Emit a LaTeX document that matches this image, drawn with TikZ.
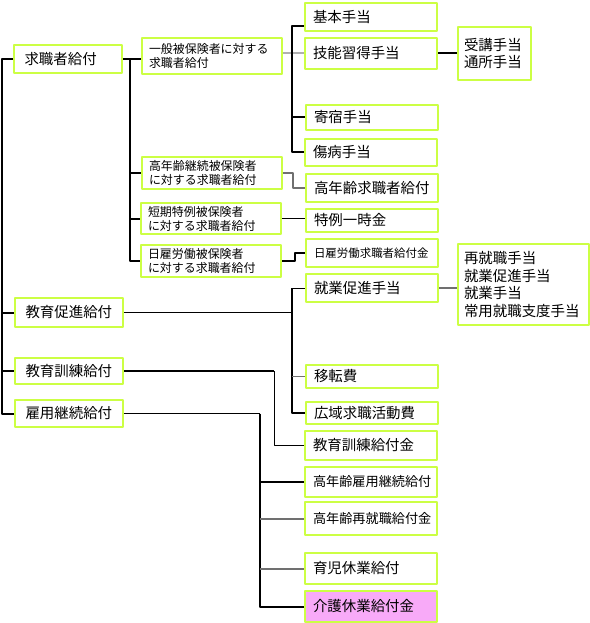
\documentclass[tikz,border=0pt]{standalone}
\usepackage{fontspec}
\setmainfont{Noto Sans CJK JP}
\usepackage{tikz}
\usetikzlibrary{calc}

\definecolor{boxcol}{RGB}{204,255,68}
\definecolor{pinkcol}{RGB}{248,170,248}
\definecolor{linegray}{RGB}{112,112,112}
\definecolor{palegray}{RGB}{176,176,176}

\tikzset{
  kbox/.style={draw=boxcol, line width=2bp, rectangle, anchor=north west,
    inner ysep=0bp, align=left, font=\fontsize{14.5}{17.5}\selectfont},
  colA/.style={kbox, inner xsep=10.5bp, text width=87bp},
  colB/.style={kbox, inner xsep=7bp, text width=126bp, font=\fontsize{12}{14}\selectfont},
  colC/.style={kbox, inner xsep=8bp, text width=116bp},
  thk/.style={line width=2bp, black},
  thn/.style={line width=1bp, black},
  gry/.style={line width=2bp, linegray},
  pale/.style={line width=2bp, palegray}
}

\begin{document}
\begin{tikzpicture}[line join=bevel, x=1bp, y=-1bp]
    \pgfsetlinewidth{1bp}
    \useasboundingbox (0,0) rectangle (590,623);
    %%
    % Node: column 1
    \node[colA, minimum height=28bp] (kyushoku) at (13,44) {求職者給付};
    \node[colA, minimum height=29bp] (sokushin) at (14,297) {教育促進給付};
    \node[colA, minimum height=26bp] (kunren) at (14,357) {教育訓練給付};
    \node[colA, minimum height=27bp] (keizoku) at (14,399) {雇用継続給付};
    % Node: column 2
    \node[colB, minimum height=36bp] (ippan) at (141,37) {一般被保険者に対する\\求職者給付};
    \node[colB, minimum height=32bp] (konenkei) at (141,156) {高年齢継続被保険者\\に対する求職者給付};
    \node[colB, minimum height=31bp] (tanki) at (140,202) {短期特例被保険者\\に対する求職者給付};
    \node[colB, minimum height=32bp] (hiyatoi) at (140,244) {日雇労働被保険者\\に対する求職者給付};
    % Node: column 3
    \node[colC, minimum height=28bp] (kihon) at (304,2) {基本手当};
    \node[colC, minimum height=31bp] (gino) at (304,37) {技能習得手当};
    \node[colC, minimum height=25bp] (kishuku) at (305,104) {寄宿手当};
    \node[colC, minimum height=27bp] (shobyo) at (304,138) {傷病手当};
    \node[colC, minimum height=28bp] (konenkyu) at (305,173) {高年齢求職者給付};
    \node[colC, minimum height=23bp] (tokurei) at (305,208) {特例一時金};
    \node[colC, minimum height=28bp, font=\fontsize{11.5}{14}\selectfont] (hiyakyu) at (305,238) {日雇労働求職者給付金};
    \node[colC, minimum height=28bp] (shugyo) at (305,273) {就業促進手当};
    \node[colC, minimum height=23bp] (iten) at (305,364) {移転費};
    \node[colC, minimum height=22bp] (koiki) at (305,401) {広域求職活動費};
    \node[colC, minimum height=29bp] (kunrenkin) at (304,430) {教育訓練給付金};
    \node[colC, minimum height=30bp, font=\fontsize{13.2}{16}\selectfont] (konenkoyo) at (304,466) {高年齢雇用継続給付};
    \node[colC, minimum height=33bp, font=\fontsize{13.2}{16}\selectfont] (konensai) at (304,501) {高年齢再就職給付金};
    \node[colC, minimum height=31bp] (ikuji) at (304,552) {育児休業給付};
    \node[colC, minimum height=31bp, fill=pinkcol] (kaigo) at (304,590) {介護休業給付金};
    % Node: column 4
    \node[kbox, inner xsep=6bp, text width=61bp, minimum height=53bp] (juko) at (457,26) {受講手当\\通所手当};
    \node[kbox, inner xsep=6bp, text width=119bp, minimum height=81bp] (saishu) at (457,243) {再就職手当\\就業促進手当\\就業手当\\常用就職支度手当};
    %
    \coordinate (trunk) at (2,0);
    \coordinate (busB) at (130,0);
    \coordinate (bracketA) at (292,0);
    \coordinate (bracketB) at (292,0);
    \coordinate (busK) at (274,0);
    \coordinate (busZ) at (260,0);
    % Edge: trunk -> column 1
    \draw[thk] (kyushoku.west) -| (trunk |- keizoku.west) -- (keizoku.west);
    \draw[thk] (trunk |- sokushin.west) -- (sokushin.west);
    \draw[thk] (trunk |- kunren.west) -- (kunren.west);
    % Edge: kyushoku -> column 2
    \draw[thk] (kyushoku.east) -- (ippan.west |- kyushoku.east);
    \draw[thk] (busB |- kyushoku.east) |- (hiyatoi.west);
    \draw[thk] (busB |- konenkei.west) -- (konenkei.west);
    \draw[thk] (busB |- tanki.west) -- (tanki.west);
    % Edge: ippan -> gino
    \draw[pale] (ippan.east |- gino.west) -- (gino.west);
    % Edge: ippan -> kihon, kishuku, shobyo
    \draw[thk] ([yshift=-9bp]kihon.west) -| (bracketA |- shobyo.west) -- (shobyo.west);
    \draw[thk] (bracketA |- kishuku.west) -- (kishuku.west);
    % Edge: gino -> juko
    \draw[thk] (gino.east) -- (juko.west |- gino.east);
    % Edge: konenkei -> konenkyu
    \draw[gry] (konenkei.east) -- ++(10,0) |- (konenkyu.west);
    % Edge: tanki -> tokurei
    \draw[thn] (tanki.east) -- (tokurei.west |- tanki.east);
    % Edge: hiyatoi -> hiyakyu
    \draw[thk, line width=1.5bp] (hiyatoi.east) -- ++(13,0) |- (hiyakyu.west);
    % Edge: sokushin -> shugyo, iten, koiki
    \draw[thn] (sokushin.east) -- (bracketB |- sokushin.east);
    \draw[thn] (bracketB |- shugyo.west) -- (shugyo.west);
    \draw[thk] (bracketB |- shugyo.west) |- (koiki.west);
    \draw[gry, line width=1bp] (bracketB |- iten.west) -- (iten.west);
    % Edge: shugyo -> saishu
    \draw[gry] (shugyo.east) -- (saishu.west |- shugyo.east);
    % Edge: kunren -> kunrenkin
    \draw[thk] (kunren.east) -- (busK |- kunren.east);
    \draw[thn] (busK |- kunren.east) |- (kunrenkin.west);
    % Edge: keizoku -> konenkoyo, konensai, ikuji, kaigo
    \draw[thn] (keizoku.east) -- (busZ |- keizoku.east);
    \draw[thk] (busZ |- keizoku.east) |- (kaigo.west);
    \draw[thk] (busZ |- konenkoyo.west) -- (konenkoyo.west);
    \draw[gry] (busZ |- konensai.west) -- (konensai.west);
    \draw[gry] (busZ |- ikuji.west) -- (ikuji.west);
    %
\end{tikzpicture}
\end{document}
